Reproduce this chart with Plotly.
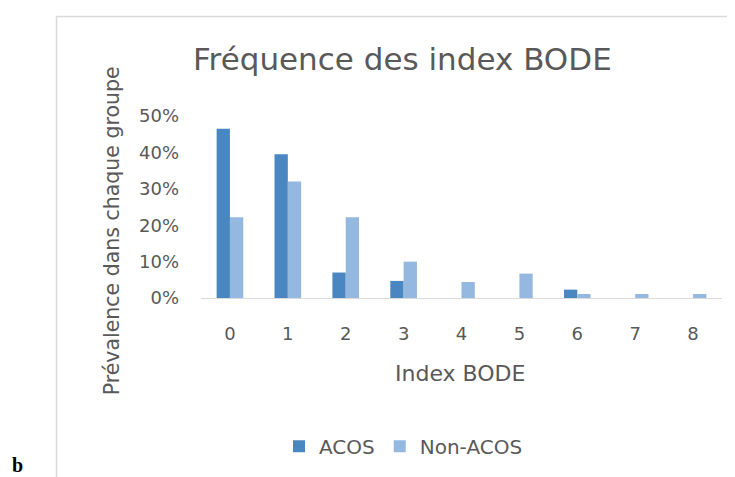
import plotly.graph_objects as go

categories = ["0", "1", "2", "3", "4", "5", "6", "7", "8"]
acos = [0.465, 0.395, 0.070, 0.047, 0.0, 0.0, 0.023, 0.0, 0.0]
non_acos = [0.222, 0.320, 0.222, 0.100, 0.044, 0.067, 0.011, 0.011, 0.011]
series_names = ["ACOS", "Non-ACOS"]
y_ticks = [0, 0.1, 0.2, 0.3, 0.4, 0.5]

OFF = 8  # default body margin of the page
W, H = 735 - OFF, 477 - OFF
# plot area in screen pixels
SL, SR, ST, SB = 201, 722, 116, 300
L, R, T, B = SL - OFF, SR - OFF, ST - OFF, SB - OFF


def px(p):  # screen pixel x -> paper x
    return (p - OFF - L) / (R - L)


def py(p):  # screen pixel y -> paper y
    return (B - (p - OFF)) / (B - T)


FONT = "DejaVu Sans"
GRAY = "#595959"

fig = go.Figure()
fig.add_trace(go.Bar(x=categories, y=acos, name=series_names[0],
                     marker=dict(color="#4A86C0", line=dict(width=0))))
fig.add_trace(go.Bar(x=categories, y=non_acos, name=series_names[1],
                     marker=dict(color="#95B8E0", line=dict(width=0))))

fig.update_layout(
    width=W, height=H,
    margin=dict(l=L, r=W - R, t=T, b=H - B, pad=0),
    paper_bgcolor="white", plot_bgcolor="white",
    barmode="group", bargap=0.54, bargroupgap=0,
    font=dict(family=FONT, color=GRAY, size=18),
    showlegend=True,
    legend=dict(orientation="h", x=px(279), xanchor="left", y=py(450), yanchor="middle",
                font=dict(size=20, color=GRAY), traceorder="normal", bgcolor="rgba(0,0,0,0)"),
    xaxis=dict(type="category", showgrid=False, showline=True, linecolor="#D9D9D9", linewidth=1,
               ticks="", tickfont=dict(size=18, color=GRAY), ticklabelstandoff=19, fixedrange=True),
    yaxis=dict(range=[0, 0.5], tickvals=y_ticks, tickformat=".0%", showgrid=False, zeroline=False,
               showline=False, ticks="", tickfont=dict(size=18, color=GRAY), ticklabelstandoff=21,
               fixedrange=True),
)

annotations = [
    dict(text="Fréquence des index BODE", x=px(402.5), y=py(58), xref="paper", yref="paper",
         xanchor="center", yanchor="middle", showarrow=False, font=dict(size=31, color=GRAY)),
    dict(text="Prévalence dans chaque groupe", x=px(112), y=py(232.5), xref="paper", yref="paper",
         xanchor="center", yanchor="middle", textangle=-90, showarrow=False,
         font=dict(size=20.5, color=GRAY)),
    dict(text="Index BODE", x=px(460), y=py(376), xref="paper", yref="paper",
         xanchor="center", yanchor="middle", showarrow=False, font=dict(size=22, color=GRAY)),
    dict(text="<b>b</b>", x=px(17), y=py(469), xref="paper", yref="paper",
         xanchor="center", yanchor="middle", showarrow=False,
         font=dict(size=20, color="black", family="Liberation Serif")),
]
fig.update_layout(annotations=annotations)

shapes = [
    dict(type="line", xref="paper", yref="paper", x0=px(56.5), x1=px(56.5), y0=py(15), y1=py(490),
         line=dict(color="#D9D9D9", width=1.5)),
    dict(type="line", xref="paper", yref="paper", x0=px(56), x1=px(745), y0=py(15.5), y1=py(15.5),
         line=dict(color="#D9D9D9", width=1.5)),
]
fig.update_layout(shapes=shapes)

fig.write_html("out.html")
